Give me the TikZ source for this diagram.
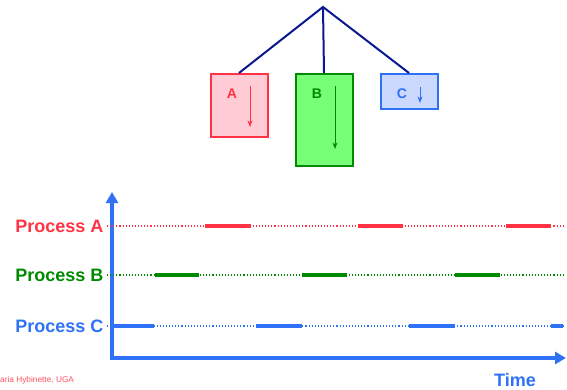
\documentclass[tikz,border=0pt]{standalone}
\usepackage{fontspec}
\setmainfont{Liberation Sans}
\usetikzlibrary{arrows.meta}
\definecolor{procred}{HTML}{FF3344}
\definecolor{pinkfill}{HTML}{FFCCD5}
\definecolor{procgreen}{HTML}{008A00}
\definecolor{greenfill}{HTML}{77FF77}
\definecolor{procblue}{HTML}{2F72F7}
\definecolor{bluefill}{HTML}{CCD9FF}
\definecolor{treenavy}{HTML}{0A1890}

\tikzset{
  procbox/.style={draw, line width=2pt, minimum width=57pt, inner sep=0pt},
  proclabel/.style={anchor=east, font=\fontsize{18}{18}\bfseries\selectfont},
  idle/.style={line width=1.1pt, dotted},
  busy/.style={line width=3.5pt},
}

\begin{document}
\begin{tikzpicture}[x=1pt, y=-1pt, >=Stealth, font=\bfseries]
  \useasboundingbox (0,0) rectangle (567,390);
  % task tree
  \coordinate (root) at (323,7);
  \node[procbox, draw=procred, fill=pinkfill, minimum height=63pt] (boxA) at (239,105.5) {};
  \node[procbox, draw=procgreen, fill=greenfill, minimum height=92pt] (boxB) at (324,120) {};
  \node[procbox, draw=procblue, fill=bluefill, minimum height=35pt] (boxC) at (409,91.5) {};
  \draw[treenavy, line width=2pt] (boxA.north) -- (root) -- (boxC.north);
  \draw[treenavy, line width=2pt] (root) -- (boxB.north);
  \node[procred, font=\fontsize{14}{14}\bfseries\selectfont] (labA) at (232,94) {A};
  \node[procgreen, font=\fontsize{14}{14}\bfseries\selectfont] (labB) at (317,94) {B};
  \node[procblue, font=\fontsize{14}{14}\bfseries\selectfont] (labC) at (402,94) {C};
  \coordinate (a1) at (250,86);  \coordinate (a2) at (250,127);
  \coordinate (b1) at (335,86);  \coordinate (b2) at (335,149);
  \coordinate (c1) at (420,87);  \coordinate (c2) at (420,103);
  \draw[procred, ->, line width=0.8pt] (a1) -- (a2);
  \draw[procgreen, ->, line width=0.8pt] (b1) -- (b2);
  \draw[procblue, ->, line width=0.8pt] (c1) -- (c2);

  % axes
  \coordinate (O) at (112,358);
  \coordinate (ytip) at (112,192);
  \coordinate (xtip) at (566,358);
  \draw[procblue, line width=4pt, line join=miter,
        {Triangle[length=11pt,width=12pt]}-{Triangle[length=11pt,width=12pt]}]
        (ytip) -- (O) -- (xtip);
  \node[procblue, font=\fontsize{18}{18}\bfseries\selectfont] (time) at (515,380) {Time};

  % timelines
  \node[proclabel, procred] (pA) at (107,226) {Process A};
  \node[proclabel, procgreen] (pB) at (107,275) {Process B};
  \node[proclabel, procblue] (pC) at (107,326) {Process C};
  \coordinate (endA) at (564,226);
  \coordinate (endB) at (564,275);
  \coordinate (endC) at (564,326);
  \draw[idle, procred] (pA.east) -- (endA);
  \draw[idle, procgreen] (pB.east) -- (endB);
  \draw[idle, procblue] (pC.east) -- (endC);
  \foreach \s/\e in {205/251, 358/403, 506/551}
    \draw[busy, procred] (\s,226) -- (\e,226);
  \foreach \s/\e in {155/199, 302/347, 455/500}
    \draw[busy, procgreen] (\s,275) -- (\e,275);
  \foreach \s/\e in {112/154, 256/302, 409/455, 551/563}
    \draw[busy, procblue] (\s,326) -- (\e,326);

  \node[anchor=west, inner sep=0pt, text=procred!85, font=\fontsize{8.3}{8.3}\selectfont] (credit) at (0,380) {aria Hybinette, UGA};
\end{tikzpicture}
\end{document}
